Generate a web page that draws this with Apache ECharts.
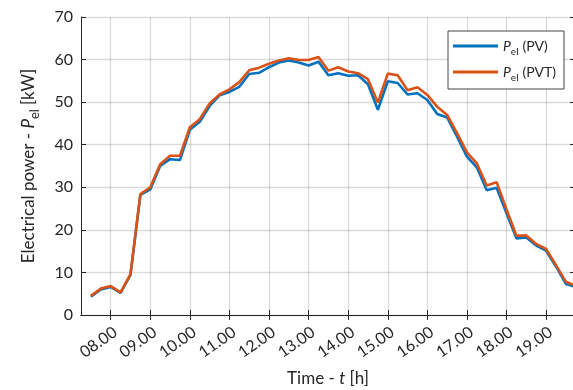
<!DOCTYPE html>
<html>
<head>
<meta charset="utf-8">
<script src="https://cdn.jsdelivr.net/npm/echarts@6/dist/echarts.min.js"></script>
<style>
  html, body { margin: 0; padding: 0; background: #fff; }
  #chart { width: 573px; height: 390px; }
</style>
</head>
<body>
<div id="chart"></div>
<script>
// 15-minute samples
const times = [
  "07:30", "07:45", "08:00", "08:15", "08:30", "08:45", "09:00", "09:15", "09:30", "09:45",
  "10:00", "10:15", "10:30", "10:45", "11:00", "11:15", "11:30", "11:45", "12:00", "12:15",
  "12:30", "12:45", "13:00", "13:15", "13:30", "13:45", "14:00", "14:15", "14:30", "14:45",
  "15:00", "15:15", "15:30", "15:45", "16:00", "16:15", "16:30", "16:45", "17:00", "17:15",
  "17:30", "17:45", "18:00", "18:15", "18:30", "18:45", "19:00", "19:15", "19:30", "19:45"
];
const pvValues = [
  4.3, 6.0, 6.6, 5.2, 9.4, 28.2, 29.5, 35.0, 36.6, 36.4,
  43.5, 45.4, 49.1, 51.6, 52.4, 53.6, 56.6, 56.9, 58.2, 59.3,
  59.8, 59.3, 58.6, 59.5, 56.3, 56.8, 56.2, 56.3, 54.2, 48.2,
  54.9, 54.5, 51.8, 52.1, 50.5, 47.2, 46.4, 41.9, 37.2, 34.7,
  29.3, 29.9, 23.9, 18.0, 18.2, 16.3, 15.1, 11.4, 7.3, 6.6
];
const pvtValues = [
  4.5, 6.2, 6.8, 5.3, 9.6, 28.4, 30.0, 35.4, 37.4, 37.4,
  44.1, 46.0, 49.7, 51.8, 53.0, 54.7, 57.5, 58.1, 59.0, 59.8,
  60.3, 59.9, 59.9, 60.6, 57.4, 58.2, 57.2, 56.8, 55.4, 49.9,
  56.7, 56.3, 52.8, 53.5, 51.7, 48.9, 47.0, 42.7, 38.2, 35.6,
  30.4, 31.2, 24.8, 18.6, 18.7, 16.7, 15.5, 11.7, 7.8, 6.9
];
const hourTicks = [8, 9, 10, 11, 12, 13, 14, 15, 16, 17, 18, 19];

const toHours = t => {
  const [h, m] = t.split(":").map(Number);
  return h + m / 60;
};
const pvData = times.map((t, i) => [toHours(t), pvValues[i]]);
const pvtData = times.map((t, i) => [toHours(t), pvtValues[i]]);

const FONT = "Lato";
const TXT = "#262626";
const X_MIN = 7.25, X_MAX = 19.73;

const chart = echarts.init(document.getElementById("chart"), null, { renderer: "canvas" });

const subRich = (size, drop, gap) => ({
  n: { fontFamily: FONT, fontSize: size, color: TXT, lineHeight: size + drop },
  i: { fontFamily: FONT, fontSize: size, color: TXT, fontStyle: "italic", lineHeight: size + drop },
  s: { fontFamily: FONT, fontSize: size - 4, color: TXT, lineHeight: size - 4, verticalAlign: "bottom", padding: [0, gap, 0, 0] }
});

const boxAxis = {
  axisLine: { show: true, lineStyle: { color: "#262626", width: 1 } },
  axisTick: { show: true, inside: true, length: 5, lineStyle: { color: "#262626" } },
  axisLabel: { show: false },
  splitLine: { show: false }
};

chart.setOption({
  animation: false,
  backgroundColor: "#fff",
  grid: { left: 81, top: 17, width: 494, height: 298, containLabel: false, outerBoundsMode: "none" },
  legend: {
    orient: "vertical",
    left: 448,
    top: 31,
    data: ["PV", "PVT"],
    icon: "rect",
    itemWidth: 45,
    itemHeight: 3,
    itemGap: 8,
    padding: [8, 8, 6, 5],
    borderColor: "#444",
    borderWidth: 1,
    backgroundColor: "#fff",
    formatter: name => `{i|P}{s|el}{n|(${name})}`,
    textStyle: { rich: subRich(14, 8, 4) }
  },
  xAxis: [
    {
      type: "value",
      min: X_MIN,
      max: X_MAX,
      name: "{n|Time - }{i|t}{n| [h]}",
      nameLocation: "middle",
      nameGap: 53,
      nameTextStyle: { rich: subRich(17, 5, 2) },
      axisLine: { show: true, lineStyle: { color: "#262626", width: 1 } },
      axisTick: {
        show: true, inside: true, length: 5,
        customValues: hourTicks,
        lineStyle: { color: "#262626" }
      },
      axisLabel: {
        customValues: hourTicks,
        rotate: 35,
        verticalAlign: "top",
        margin: 9,
        fontFamily: FONT,
        fontSize: 16,
        color: TXT,
        formatter: v => String(v).padStart(2, "0") + ".00"
      },
      splitLine: { show: true, lineStyle: { color: "rgba(0,0,0,0.14)", width: 1.3 } }
    },
    Object.assign({}, boxAxis, {
      type: "value", position: "top", min: X_MIN, max: X_MAX,
      axisTick: Object.assign({}, boxAxis.axisTick, { customValues: hourTicks })
    })
  ],
  yAxis: [
    {
      type: "value",
      min: 0,
      max: 70,
      interval: 10,
      name: "{n|Electrical power - }{i|P}{s|el}{n|[kW]}",
      nameLocation: "middle",
      nameGap: 40,
      nameTextStyle: { rich: subRich(17, 8, 4) },
      axisLine: { show: true, lineStyle: { color: "#262626", width: 1 } },
      axisTick: { show: true, inside: true, length: 5, lineStyle: { color: "#262626" } },
      axisLabel: { margin: 8, fontFamily: FONT, fontSize: 16, color: TXT },
      splitLine: { show: true, lineStyle: { color: "rgba(0,0,0,0.14)", width: 1.3 } }
    },
    Object.assign({}, boxAxis, { type: "value", position: "right", min: 0, max: 70, interval: 10 })
  ],
  series: [
    {
      name: "PV",
      type: "line",
      data: pvData,
      symbol: "none",
      clip: true,
      lineStyle: { color: "#0072BD", width: 2.6 },
      itemStyle: { color: "#0072BD" }
    },
    {
      name: "PVT",
      type: "line",
      data: pvtData,
      symbol: "none",
      clip: true,
      lineStyle: { color: "#D95319", width: 2.6 },
      itemStyle: { color: "#D95319" }
    }
  ]
});
</script>
</body>
</html>
